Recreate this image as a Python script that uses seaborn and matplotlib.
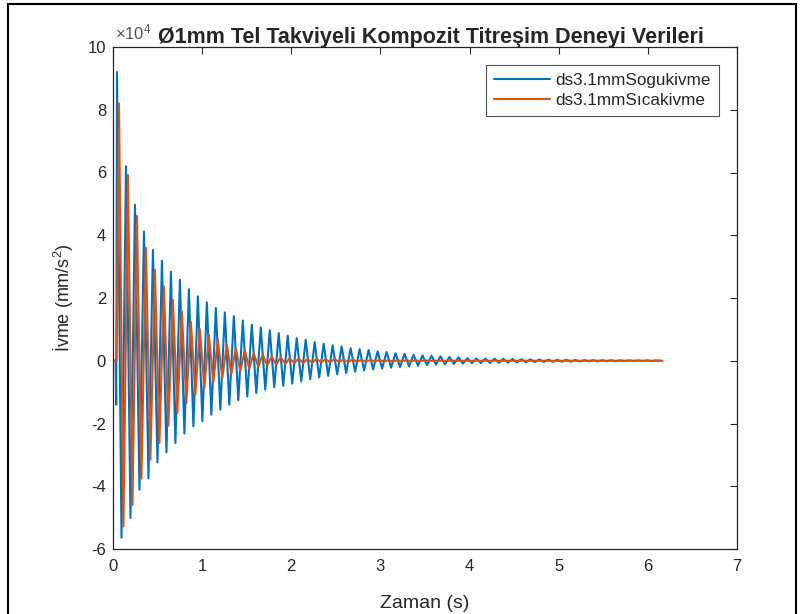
import matplotlib
matplotlib.use("Agg")
import matplotlib.pyplot as plt
from matplotlib.patches import Rectangle
import numpy as np
import pandas as pd
import seaborn as sns

# values, in units of 1e4 mm/s^2
half_period = 0.0504  # s, time between a peak and the next trough

blue_lead_t = [0.0, 0.030, 0.036]
blue_lead_v = [0.0, 0.0, -1.4]
blue_t0 = 0.045
blue_peaks = [9.2, 6.2, 4.97, 4.12, 3.53, 3.19, 2.84, 2.58, 2.28, 2.05,
              1.86, 1.68, 1.54, 1.42, 1.28, 1.15, 1.06, 0.97, 0.88, 0.80,
              0.72, 0.67, 0.59, 0.54, 0.49, 0.46, 0.40, 0.37, 0.34, 0.30,
              0.28, 0.24, 0.22, 0.19, 0.17, 0.16, 0.14, 0.12, 0.11, 0.08,
              0.07, 0.07, 0.065, 0.06, 0.055, 0.05, 0.045, 0.04, 0.035, 0.03,
              0.03, 0.025, 0.02, 0.02, 0.015, 0.015, 0.01, 0.01, 0.01, 0.01,
              0.01]
blue_troughs = [-5.64, -5.01, -4.11, -3.74, -3.24, -2.92, -2.62, -2.32, -2.09, -1.93,
                -1.72, -1.56, -1.40, -1.26, -1.14, -1.03, -0.92, -0.84, -0.80, -0.73,
                -0.66, -0.59, -0.53, -0.48, -0.43, -0.39, -0.35, -0.31, -0.28, -0.25,
                -0.22, -0.20, -0.18, -0.16, -0.14, -0.12, -0.11, -0.10, -0.09, -0.08,
                -0.07, -0.07, -0.065, -0.06, -0.055, -0.05, -0.045, -0.04, -0.035, -0.03,
                -0.03, -0.025, -0.02, -0.02, -0.015, -0.015, -0.01, -0.01, -0.01, -0.01,
                0.0]

orange_lead_t = [0.0, 0.040]
orange_lead_v = [0.0, 0.0]
orange_t0 = 0.067
orange_peaks = [8.2, 5.92, 4.62, 3.6, 2.9, 2.37, 1.94, 1.57, 1.25, 1.01,
                0.83, 0.67, 0.51, 0.40, 0.33, 0.24, 0.19, 0.14, 0.11, 0.08,
                0.07, 0.06, 0.06, 0.05, 0.05, 0.04, 0.04, 0.03, 0.03, 0.02,
                0.02, 0.02, 0.01, 0.01, 0.01, 0.0, 0.0, 0.0, 0.0, 0.0,
                0.0, 0.0, 0.0, 0.0, 0.0, 0.0, 0.0, 0.0, 0.0, 0.0,
                0.0, 0.0, 0.0, 0.0, 0.0, 0.0, 0.0, 0.0, 0.0, 0.0,
                0.0]
orange_troughs = [-5.28, -4.6, -3.76, -3.15, -2.62, -2.07, -1.66, -1.35, -1.08, -0.87,
                  -0.68, -0.55, -0.42, -0.33, -0.25, -0.19, -0.15, -0.12, -0.10, -0.08,
                  -0.07, -0.06, -0.05, -0.05, -0.04, -0.04, -0.03, -0.03, -0.02, -0.02,
                  -0.02, -0.01, -0.01, -0.01, 0.0, 0.0, 0.0, 0.0, 0.0, 0.0,
                  0.0, 0.0, 0.0, 0.0, 0.0, 0.0, 0.0, 0.0, 0.0, 0.0,
                  0.0, 0.0, 0.0, 0.0, 0.0, 0.0, 0.0, 0.0, 0.0, 0.0,
                  0.0]

series_names = ["ds3.1mmSogukivme", "ds3.1mmSıcakivme"]
colors = ["#0072BD", "#D95319"]


def build_series(name, lead_t, lead_v, t0, peaks, troughs):
    extremes = np.empty(2 * len(peaks))
    extremes[0::2] = peaks
    extremes[1::2] = troughs
    t = t0 + half_period * np.arange(len(extremes))
    return pd.DataFrame({
        "t": np.concatenate([lead_t, t]),
        "a": np.concatenate([lead_v, extremes]),
        "seri": name,
    })


df = pd.concat([
    build_series(series_names[0], blue_lead_t, blue_lead_v, blue_t0, blue_peaks, blue_troughs),
    build_series(series_names[1], orange_lead_t, orange_lead_v, orange_t0, orange_peaks, orange_troughs),
], ignore_index=True)

sns.set_style("white")
plt.rcParams["font.family"] = ["Liberation Sans", "DejaVu Sans"]
plt.rcParams["mathtext.fontset"] = "custom"
plt.rcParams["mathtext.rm"] = "Liberation Sans"
plt.rcParams["mathtext.it"] = "Liberation Sans"
plt.rcParams["axes.unicode_minus"] = False

fig = plt.figure(figsize=(8.03, 6.14), dpi=100)
ax = fig.add_axes([113 / 803, 1 - 549 / 614, 624 / 803, 502 / 614])

sns.lineplot(data=df, x="t", y="a", hue="seri", palette=colors,
             estimator=None, sort=False, linewidth=1.5, ax=ax)

ax.set_xlim(0, 7)
ax.set_ylim(-6, 10)
ax.set_xticks(range(0, 8))
ax.set_yticks(range(-6, 11, 2))

axis_col = "#262626"
for s in ax.spines.values():
    s.set_visible(True)
    s.set_color(axis_col)
    s.set_linewidth(0.9)
ax.tick_params(direction="in", length=5, width=0.8, color=axis_col,
               top=True, right=True, labelsize=12, labelcolor=axis_col)
ax.tick_params(axis="x", pad=7)
ax.tick_params(axis="y", pad=5)

ax.set_xlabel("Zaman (s)", fontsize=14, color=axis_col, labelpad=15)
ax.set_ylabel("İvme (mm/s$^2$)", fontsize=13, color=axis_col, labelpad=8)
ax.set_title("Ø1mm Tel Takviyeli Kompozit Titreşim Deneyi Verileri",
             fontsize=15.5, fontweight="bold", pad=3, x=0.51)
ax.text(0.004, 1.01, r"$\times10^{4}$", transform=ax.transAxes,
        fontsize=12, color="#555555", ha="left", va="bottom")

leg = ax.legend(loc="upper right", bbox_to_anchor=(0.971, 0.964),
                borderaxespad=0.0, fontsize=12.3, frameon=True, fancybox=False,
                handlelength=3.3, borderpad=0.47, labelspacing=0.27,
                handletextpad=0.3)
leg.get_frame().set_edgecolor(axis_col)
leg.get_frame().set_linewidth(0.8)

fig.patches.append(Rectangle((8 / 803, -0.05), 788 / 803, 1.05 - 4 / 614,
                             transform=fig.transFigure, fill=False,
                             edgecolor="black", linewidth=1.5))

fig.savefig("out.png", dpi=100)
